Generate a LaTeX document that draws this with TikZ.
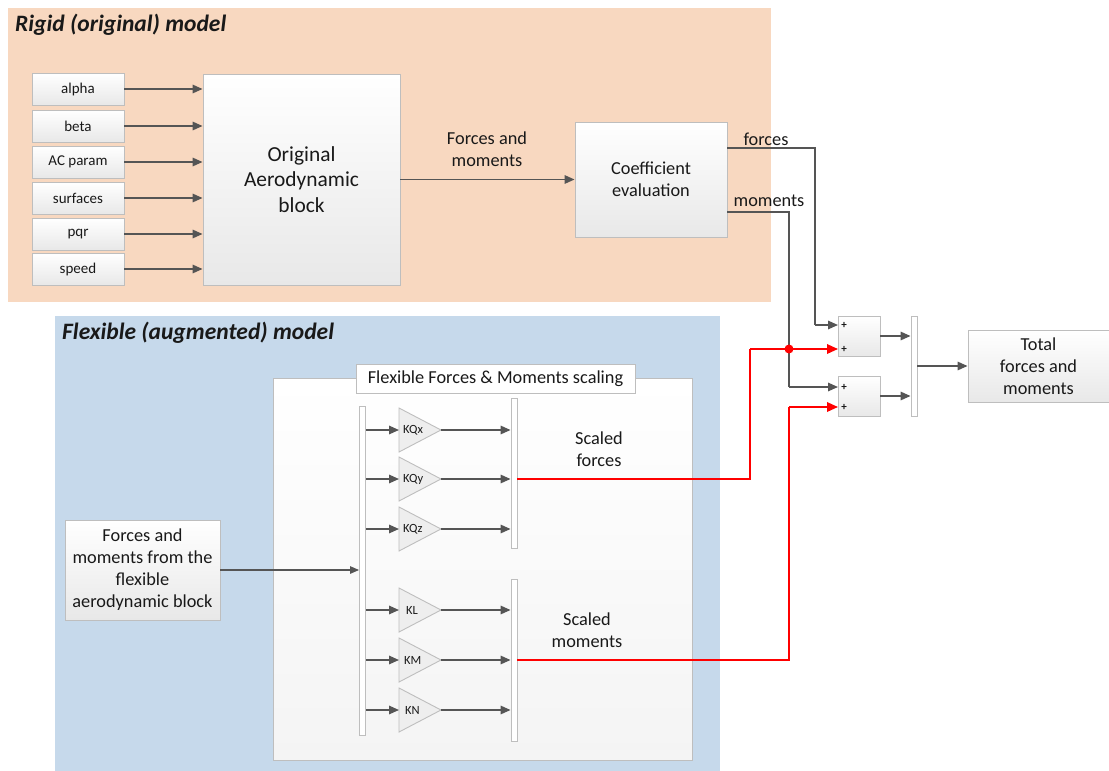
\documentclass[tikz,border=0pt]{standalone}
\usepackage{fontspec}
\setmainfont{Carlito}
\usetikzlibrary{arrows.meta,shadows}
\definecolor{rigidbg}{RGB}{248,216,192}
\definecolor{flexbg}{RGB}{198,217,235}
\definecolor{linegray}{RGB}{85,85,85}
\definecolor{boxedge}{RGB}{190,190,190}
\definecolor{txt}{RGB}{25,25,25}
\begin{document}
\begin{tikzpicture}[x=1pt,y=-1pt, every node/.style={text=txt},
  blk/.style={draw=boxedge, line width=0.9pt, top color=white, bottom color={rgb,255:red,232;green,232;blue,232},
    inner sep=0pt, align=center, font=\fontsize{15}{18}\selectfont,
    drop shadow={opacity=0.25,shadow xshift=1.2pt,shadow yshift=-1.2pt}},
  bar/.style={draw=boxedge, line width=0.9pt, fill=white, minimum width=6pt, inner sep=0pt},
  arr/.style={draw=linegray, line width=1.6pt, -{Triangle[length=10pt,width=8.5pt]}},
  ln/.style={draw=linegray, line width=1.6pt},
  rarr/.style={draw=red, line width=1.8pt, -{Triangle[length=11pt,width=9.5pt]}},
  rln/.style={draw=red, line width=1.8pt},
  lbl/.style={font=\fontsize{18.3}{22}\selectfont, align=center, inner sep=0pt},
  big/.style={font=\fontsize{18.3}{22}\selectfont},
  ttl/.style={font=\fontsize{23.5}{26}\selectfont\bfseries\itshape, anchor=west, inner sep=0pt},
  gain/.style={draw=boxedge, line width=0.9pt, fill={rgb,255:red,238;green,238;blue,238}},
  gtext/.style={font=\fontsize{12.5}{13}\selectfont, inner sep=0pt, anchor=west}
]
\useasboundingbox (0,0) rectangle (1109,771);
% backgrounds
\fill[rigidbg] (8,8) rectangle (771,302);
\fill[flexbg] (55,316) rectangle (720,771);
\node[ttl] (trigid) at (15,25) {Rigid (original) model};
\node[ttl] (tflex) at (62,333) {Flexible (augmented) model};

% rigid inputs
\foreach \n/\t/\y in {a/alpha/89, b/beta/126, c/AC param/162, s/surfaces/198, p/pqr/234, v/speed/269}{
  \node[blk, minimum width=92pt, minimum height=32pt] (in\n) at (78,\y) {\t};
}
\node[blk, minimum width=197pt, minimum height=211pt, font=\fontsize{21.4}{25.5}\selectfont] (orig) at (301.5,179.5) {Original\\Aerodynamic\\block};
\foreach \n in {a,b,c,s,p,v}{
  \draw[arr] (in\n.east) -- (orig.west |- in\n.east);
}
\node[blk, big, minimum width=152pt, minimum height=115pt] (coef) at (651,179.5) {Coefficient\\evaluation};
\draw[arr] (orig.east |- coef.west) -- (coef.west);
\node[lbl] (fm) at (487,149) {Forces and\\moments};

% sum blocks and mux
\node[blk, minimum width=42pt, minimum height=40pt] (sum1) at (859,336) {};
\node[blk, minimum width=42pt, minimum height=40pt] (sum2) at (859,396) {};
\foreach \s/\a/\b in {sum1/325/349, sum2/387/407}{
  \node[font=\fontsize{11}{11}\selectfont\bfseries, inner sep=0pt] at (844,\a) {+};
  \node[font=\fontsize{11}{11}\selectfont\bfseries, inner sep=0pt] at (844,\b) {+};
}
\node[bar, minimum height=100pt] (mux) at (914,366) {};
\node[blk, big, minimum width=141pt, minimum height=72pt] (total) at (1038.5,366) {Total\\forces and\\moments};
\draw[arr] (sum1.east) -- (mux.west |- sum1.east);
\draw[arr] (sum2.east) -- (mux.west |- sum2.east);
\draw[arr] (mux.east |- total.west) -- (total.west);

% forces / moments from coefficient evaluation
\coordinate (fo) at (727,148);
\coordinate (mo) at (727,212);
\node[lbl] (lforces) at (766,139) {forces};
\node[lbl] (lmoments) at (769,201) {moments};
\coordinate (s1a) at (838,325);
\coordinate (s1b) at (838,349);
\coordinate (s2a) at (838,387);
\coordinate (s2b) at (838,407);
\draw[ln] (fo) -| (815,325);
\draw[arr] (815,325) -- (s1a);
\draw[ln] (mo) -| (789,387);
\draw[arr] (789,387) -- (s2a);

% flexible part
\node[draw=boxedge, line width=0.9pt, top color=white, bottom color={rgb,255:red,244;green,244;blue,244}, minimum width=419pt, minimum height=382pt,
  drop shadow={opacity=0.2,shadow xshift=1.2pt,shadow yshift=-1.2pt}] (flexbox) at (482.5,569) {};
\node[draw=boxedge, line width=0.9pt, fill=white, minimum width=279pt, minimum height=29pt, inner sep=0pt,
  big] (flextitle) at (495.5,379) {Flexible Forces \& Moments scaling};
\node[bar, minimum height=329pt] (demux) at (362.5,570.5) {};
\node[bar, minimum height=150pt] (fmux) at (514,473) {};
\node[bar, minimum height=162pt] (mmux) at (514,660) {};
\node[blk, big, minimum width=155pt, minimum height=100pt] (flexin) at (142.5,570) {Forces and\\moments from the\\flexible\\aerodynamic block};
\draw[ln, line width=1.2pt, -{Triangle[length=9pt,width=7.5pt]}] (flexin.east) -- (demux.west |- flexin.east);

\foreach \n/\t/\y/\m in {qx/KQx/430/fmux, qy/KQy/479/fmux, qz/KQz/529/fmux, l/KL/610/mmux, m/KM/660/mmux, n/KN/710/mmux}{
  \draw[gain] (399,\y-22) -- (441,\y) -- (399,\y+22) -- cycle;
  \coordinate (gi\n) at (399,\y);
  \coordinate (go\n) at (441,\y);
  \draw[arr] (demux.east |- gi\n) -- (gi\n);
  \draw[arr] (go\n) -- (\m.west |- go\n);
}
\node[gtext] (gqx) at (403,430) {KQx};
\node[gtext] (gqy) at (403,479) {KQy};
\node[gtext] (gqz) at (403,529) {KQz};
\node[gtext] (gl) at (406,610) {KL};
\node[gtext] (gm) at (404,660) {KM};
\node[gtext] (gn) at (405,710) {KN};
\node[lbl] (lsf) at (599,449) {Scaled\\forces};
\node[lbl] (lsm) at (587,630) {Scaled\\moments};

% red connections
\draw[rln] (fmux.east |- goqy) -| (750,349);
\draw[rarr] (750,349) -- (s1b);
\draw[rln] (mmux.east |- gom) -| (789,407);
\draw[rarr] (789,407) -- (s2b);
\fill[red] (789,349) circle (4.5pt);
\end{tikzpicture}
\end{document}
